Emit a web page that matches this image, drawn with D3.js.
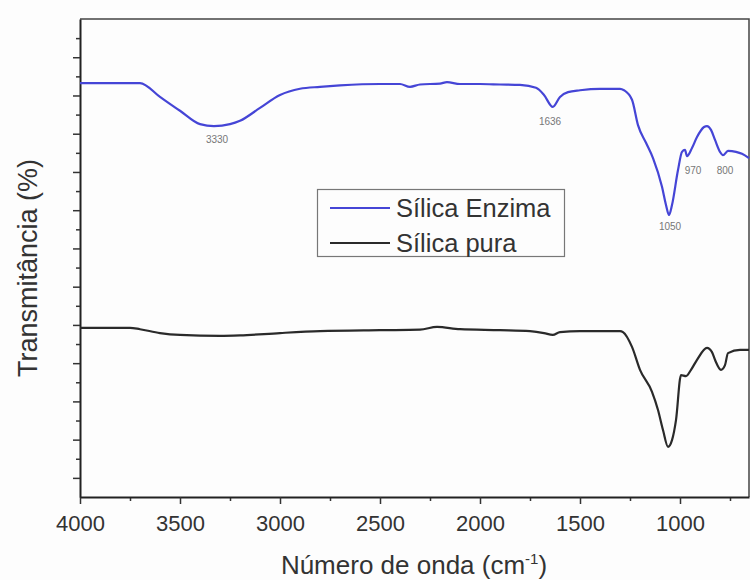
<!DOCTYPE html>
<html>
<head>
<meta charset="utf-8">
<script src="https://cdn.jsdelivr.net/npm/d3@7"></script>
<style>
  body { margin: 0; background: #fdfdfd; }
  svg { font-family: "Liberation Sans", Arial, sans-serif; }
</style>
</head>
<body>
<div id="chart"></div>
<script>
// wavenumbers (cm-1) and transmittance readings (arbitrary units)
var enzimaWave = [4000, 3700, 3600, 3500, 3400, 3330, 3250, 3200, 3100, 3000, 2900, 2800, 2700, 2500, 2400, 2350, 2300, 2200, 2165, 2100, 2000, 1900, 1800, 1720, 1680, 1636, 1600, 1560, 1500, 1400, 1300, 1280, 1240, 1210, 1170, 1135, 1090, 1070, 1055, 1040, 1010, 990, 975, 965, 940, 915, 880, 865, 845, 825, 800, 785, 760, 720, 690, 655];
var enzimaT = [86.6, 86.6, 83.7, 80.8, 78.0, 77.6, 78.0, 78.7, 81.4, 84.1, 85.4, 85.8, 86.1, 86.4, 86.4, 85.8, 86.3, 86.5, 86.8, 86.4, 86.4, 86.3, 86.2, 85.6, 84.1, 81.6, 83.7, 84.7, 85.1, 85.4, 85.4, 85.1, 83.1, 77.8, 74.1, 70.9, 64.9, 61.1, 59.0, 61.1, 68.4, 72.2, 72.6, 71.3, 73.0, 75.3, 77.4, 77.6, 76.8, 74.7, 72.2, 71.5, 72.4, 72.2, 71.8, 70.9];

var puraWave = [4000, 3750, 3700, 3600, 3500, 3300, 3200, 3000, 2800, 2500, 2300, 2215, 2100, 1900, 1750, 1680, 1636, 1600, 1500, 1300, 1285, 1240, 1200, 1140, 1110, 1085, 1060, 1040, 1020, 995, 970, 945, 915, 865, 840, 825, 795, 775, 760, 700, 655];
var puraT = [35.4, 35.4, 35.1, 34.3, 33.9, 33.7, 33.8, 34.3, 34.7, 34.9, 35.0, 35.6, 35.1, 34.9, 34.7, 34.3, 33.9, 34.5, 34.7, 34.7, 34.5, 31.4, 26.6, 22.0, 18.2, 14.0, 10.5, 11.9, 16.1, 25.5, 25.3, 26.6, 28.7, 31.2, 30.3, 28.7, 26.6, 27.6, 30.1, 30.8, 30.8];

// peak annotations: text, where it sits (wavenumber, transmittance)
var peakLabels = ["3330", "1636", "1050", "970", "800"];
var peakWave = [3315, 1650, 1050, 935, 775];
var peakLabelT = [74.1, 77.8, 55.9, 67.6, 67.6];

var xTicks = [4000, 3500, 3000, 2500, 2000, 1500, 1000];
var seriesNames = ["Sílica Enzima", "Sílica pura"];

var width = 750, height = 580;
var margin = { top: 19, right: 1, bottom: 83, left: 80 };

var svg = d3.select("#chart").append("svg")
    .attr("width", width)
    .attr("height", height);

var x = d3.scaleLinear()
    .domain([4000, 655])
    .range([margin.left, width - margin.right]);

var y = d3.scaleLinear()
    .domain([0, 100])
    .range([height - margin.bottom, margin.top]);

// frame (top + right)
svg.append("path")
    .attr("d", "M" + x(4000) + "," + y(100) + "H" + x(655) + "V" + y(0))
    .attr("fill", "none")
    .attr("stroke", "#444")
    .attr("stroke-width", 1.5);

// x axis
var xMinor = d3.range(3750, 655, -500);
svg.append("g")
    .attr("transform", "translate(0," + y(0) + ")")
    .call(d3.axisBottom(x).tickValues(xMinor).tickSize(4).tickFormat(""))
    .call(function(g) { g.select(".domain").remove(); })
    .selectAll("line").attr("stroke", "#333").attr("stroke-width", 1.5);

var xAxis = svg.append("g")
    .attr("transform", "translate(0," + y(0) + ")")
    .call(d3.axisBottom(x).tickValues(xTicks).tickFormat(d3.format("d"))
        .tickSize(7).tickPadding(11).tickSizeOuter(0));
xAxis.select(".domain").attr("stroke", "#222").attr("stroke-width", 2);
xAxis.selectAll(".tick line").attr("stroke", "#333").attr("stroke-width", 1.5);
xAxis.selectAll("text")
    .attr("fill", "#333")
    .style("font-size", "22px")
    .style("font-family", "Liberation Sans, Arial, sans-serif");

// y axis, no labels, alternating tick length
var yTicks = d3.range(4, 100, 4);
var yAxis = svg.append("g")
    .attr("transform", "translate(" + x(4000) + ",0)")
    .call(d3.axisLeft(y).tickValues(yTicks).tickFormat("").tickSizeOuter(0));
yAxis.select(".domain").attr("stroke", "#222").attr("stroke-width", 2);
yAxis.selectAll(".tick line")
    .attr("stroke", "#333")
    .attr("stroke-width", 1.5)
    .attr("x2", function(d) { return (d / 4) % 2 === 1 ? -7 : -4; });

// lines
var line = d3.line()
    .x(function(d) { return x(d[0]); })
    .y(function(d) { return y(d[1]); })
    .curve(d3.curveMonotoneX);

var puraData = d3.zip(puraWave, puraT);
var enzimaData = d3.zip(enzimaWave, enzimaT);

svg.append("path")
    .datum(puraData)
    .attr("d", line)
    .attr("fill", "none")
    .attr("stroke", "#2a2a2a")
    .attr("stroke-width", 2.2);

svg.append("path")
    .datum(enzimaData)
    .attr("d", line)
    .attr("fill", "none")
    .attr("stroke", "#4545d6")
    .attr("stroke-width", 2.2);

// peak labels
svg.selectAll(".peak")
    .data(peakLabels)
    .enter().append("text")
    .attr("class", "peak")
    .attr("x", function(d, i) { return x(peakWave[i]); })
    .attr("y", function(d, i) { return y(peakLabelT[i]); })
    .attr("text-anchor", "middle")
    .attr("fill", "#777")
    .style("font-size", "10px")
    .text(function(d) { return d; });

// legend
var legend = svg.append("g");
legend.append("rect")
    .attr("x", 317.5).attr("y", 189.5)
    .attr("width", 247).attr("height", 67)
    .attr("fill", "#fdfdfd")
    .attr("stroke", "#777")
    .attr("stroke-width", 1.2);

var legendColors = ["#4545d6", "#2a2a2a"];
seriesNames.forEach(function(name, i) {
    var ly = 208 + i * 35;
    legend.append("line")
        .attr("x1", 330).attr("x2", 390)
        .attr("y1", ly).attr("y2", ly)
        .attr("stroke", legendColors[i])
        .attr("stroke-width", 2.2);
    legend.append("text")
        .attr("x", 396).attr("y", ly + 9)
        .attr("fill", "#333")
        .style("font-size", "25.5px")
        .text(name);
});

// axis titles
svg.append("text")
    .attr("transform", "translate(37,268) rotate(-90)")
    .attr("text-anchor", "middle")
    .attr("fill", "#333")
    .style("font-size", "27px")
    .text("Transmitância (%)");

var xt = svg.append("text")
    .attr("x", 414).attr("y", 574)
    .attr("text-anchor", "middle")
    .attr("fill", "#333")
    .style("font-size", "26px");
xt.append("tspan").text("Número de onda (cm");
xt.append("tspan").attr("dy", -10).style("font-size", "15px").text("-1");
xt.append("tspan").attr("dy", 10).text(")");
</script>
</body>
</html>
